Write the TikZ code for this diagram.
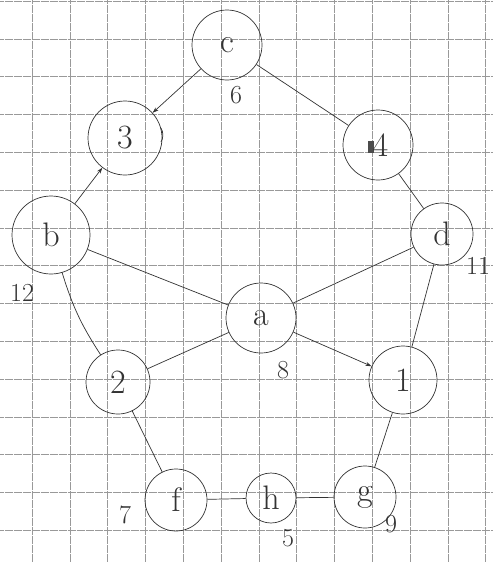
\documentclass[tikz,border=0pt]{standalone}
\usetikzlibrary{arrows.meta}
\begin{document}
\begin{tikzpicture}[x=1pt,y=-1pt,
  vtx/.style={draw=black!80, line width=0.7pt, circle, inner sep=0pt, font=\fontsize{34}{34}\selectfont, text=black!80},
  wlabel/.style={font=\fontsize{26}{26}\selectfont, text=black!80, inner sep=0pt},
  edge/.style={draw=black!80, line width=0.7pt},
  arr/.style={edge, -{Stealth[length=6pt,width=4pt]}},
  gridline/.style={draw=black!40, line width=0.6pt, dash pattern=on 4pt off 0.5pt}]
\useasboundingbox (0,0) rectangle (493,562);
\fill[white] (0,0) rectangle (493,562);
% grid
\foreach \k in {0,...,12} {
  \draw[gridline] ({32+37.8*\k},0) -- ({32+37.8*\k},562);
}
\foreach \k in {0,...,14} {
  \draw[gridline] (0,{1+37.8*\k}) -- (493,{1+37.8*\k});
}
% nodes
\node[vtx, minimum size=70pt] (c) at (227,45) {c};
\node[vtx, minimum size=74pt] (n3) at (125,138) {3};
\node[vtx, minimum size=70pt] (n4) at (378,145) {\textcolor{black!70}{\rule[3pt]{6pt}{12pt}}\kern-1pt 4};
\node[vtx, minimum size=78pt] (b) at (51,235) {b};
\node[vtx, minimum size=62pt] (d) at (442,234) {d};
\node[vtx, minimum size=70pt] (a) at (261,318) {a};
\node[vtx, minimum size=64pt] (n2) at (118,382) {2};
\node[vtx, minimum size=68pt] (n1) at (403,380) {1};
\node[vtx, minimum size=62pt] (f) at (176,500) {f};
\node[vtx, minimum size=50pt] (h) at (271,498) {h};
\node[vtx, minimum size=62pt] (g) at (365,497) {g};
% weights
\node[wlabel] (w6) at (236,95) {6};
\node[wlabel] (w12) at (22,293) {12};
\node[wlabel] (w11) at (478,266) {11};
\node[wlabel] (w8) at (283,370) {8};
\node[wlabel] (w7) at (125,515) {7};
\node[wlabel] (w5) at (288,538) {5};
\node[wlabel] (w9) at (391,524) {9};
% stray mark near 3
\draw[edge] (161,128) arc[start angle=30, end angle=-30, radius=14pt];
% edges
\draw[arr] (c) -- (n3);
\draw[edge] (c) -- (n4);
\draw[edge] (n4) -- (d);
\draw[arr] (b) -- (n3);
\draw[edge] (b) -- (a);
\draw[edge] (d) -- (a);
\draw[arr] (a) -- (n1);
\draw[edge] (b) to[bend right=8] (n2);
\draw[edge] (n2) -- (a);
\draw[edge] (d) -- (n1);
\draw[edge] (n1) -- (g);
\draw[edge] (n2) -- (f);
\draw[edge] (f) -- (h);
\draw[edge] (h) -- (g);
\end{tikzpicture}
\end{document}
